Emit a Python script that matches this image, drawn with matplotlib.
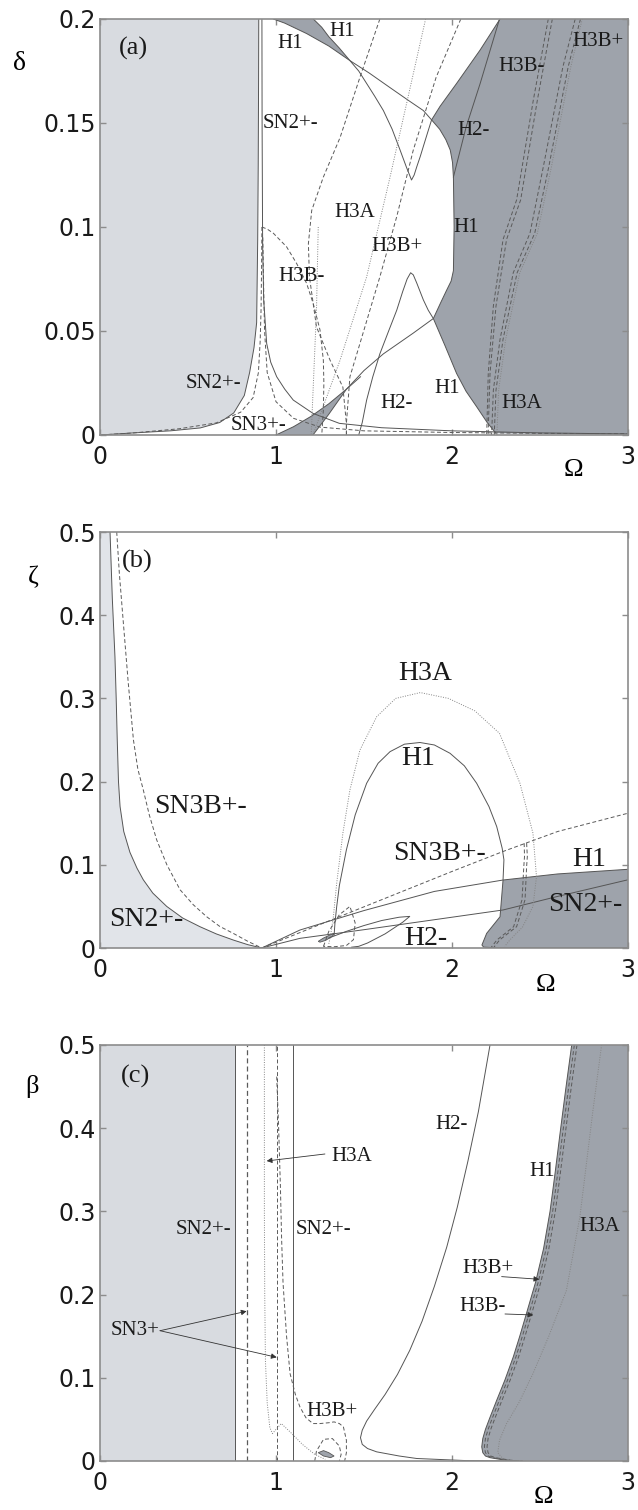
import matplotlib
matplotlib.use("Agg")
import matplotlib.pyplot as plt
import numpy as np

# ---------------- data : panel (a)  (Omega, delta) ----------------
a_sn2L_om = [0, 0.19, 0.40, 0.57, 0.68, 0.76, 0.82, 0.85, 0.875, 0.89, 0.896, 0.899, 0.901, 0.902]
a_sn2L_de = [0, 0.001, 0.002, 0.0034, 0.006, 0.0106, 0.019, 0.030, 0.042, 0.054, 0.094, 0.13, 0.17, 0.2]
a_sn2R_om = [0.92, 0.921, 0.924, 0.93, 0.947, 0.97, 1.004, 1.05, 1.098, 1.21, 1.36, 1.6, 2.0, 2.5, 3.0]
a_sn2R_de = [0.2, 0.15, 0.092, 0.065, 0.044, 0.035, 0.028, 0.022, 0.0168, 0.0104, 0.0056, 0.0035, 0.002, 0.001, 0.0005]
a_h1big_om = [0.985, 1.05, 1.174, 1.30, 1.42, 1.53, 1.648, 1.75, 1.837, 1.884, 1.93, 1.965, 1.99, 2.003, 2.008,
              2.012, 2.008, 1.995, 1.97, 1.935, 1.894, 1.78, 1.61, 1.50, 1.40, 1.30, 1.20, 1.10, 1.0]
a_h1big_de = [0.2, 0.198, 0.193, 0.187, 0.18, 0.174, 0.167, 0.161, 0.156, 0.1515, 0.147, 0.142, 0.137, 0.131, 0.124,
              0.1, 0.079, 0.074, 0.0697, 0.0635, 0.056, 0.049, 0.039, 0.031, 0.022, 0.015, 0.009, 0.004, 0.0]
a_v_om = [1.212, 1.26, 1.30, 1.36, 1.42, 1.47, 1.515, 1.56, 1.61, 1.66, 1.705, 1.74, 1.77, 1.785, 1.80, 1.82, 1.837,
          1.86, 1.884, 1.932, 2.026, 2.159, 2.273]
a_v_de = [0.2, 0.196, 0.1915, 0.186, 0.18, 0.175, 0.169, 0.163, 0.156, 0.147, 0.137, 0.129, 0.1226, 0.125, 0.129, 0.134,
          0.1387, 0.145, 0.1515, 0.158, 0.169, 0.185, 0.2]
a_h2top_om = [2.27, 2.16, 2.08, 2.008]
a_h2top_de = [0.2, 0.169, 0.148, 0.124]
a_peak_om = [1.47, 1.49, 1.515, 1.55, 1.59, 1.64, 1.686, 1.72, 1.745, 1.765, 1.78, 1.80, 1.837, 1.865, 1.894, 1.96,
             2.026, 2.08, 2.14, 2.2, 2.25]
a_peak_de = [0.0, 0.006, 0.0168, 0.028, 0.039, 0.05, 0.06, 0.069, 0.075, 0.078, 0.077, 0.073, 0.065, 0.06, 0.056, 0.043,
             0.0296, 0.021, 0.0136, 0.006, 0.0008]
a_y_om = [1.21, 1.30, 1.40, 1.48]
a_y_de = [0.0, 0.010, 0.022, 0.028]
a_h3bm_om = [0.92, 0.95, 0.985, 1.06, 1.117, 1.174, 1.212, 1.25, 1.269, 1.272, 1.269, 1.26]
a_h3bm_de = [0.1, 0.099, 0.097, 0.0905, 0.0825, 0.0729, 0.063, 0.0505, 0.036, 0.025, 0.012, 0.0]
a_sn3L_om = [0.92, 0.918, 0.915, 0.91, 0.90, 0.87, 0.80, 0.66, 0.45, 0.19, 0.0]
a_sn3L_de = [0.1, 0.08, 0.06, 0.045, 0.03, 0.018, 0.011, 0.0058, 0.003, 0.001, 0.0]
a_sn3R_om = [0.925, 0.93, 0.935, 0.95, 1.0, 1.1, 1.25, 1.5, 2.0, 2.5, 3.0]
a_sn3R_de = [0.095, 0.07, 0.05, 0.03, 0.016, 0.008, 0.0038, 0.002, 0.0012, 0.0008, 0.0006]
a_h3a_om = [1.59, 1.477, 1.364, 1.269, 1.203, 1.184, 1.19, 1.23, 1.307, 1.38, 1.40, 1.40]
a_h3a_de = [0.2, 0.172, 0.143, 0.124, 0.108, 0.092, 0.076, 0.052, 0.036, 0.023, 0.0056, 0.0]
a_dot1_om = [1.85, 1.648, 1.515, 1.364, 1.21]
a_dot1_de = [0.2, 0.124, 0.076, 0.036, 0.0]
a_dot2_om = [1.24, 1.23, 1.21, 1.20]
a_dot2_de = [0.1, 0.06, 0.02, 0.0]
a_h3bp_om = [2.05, 1.91, 1.78, 1.686, 1.59, 1.477, 1.42, 1.40, 1.40]
a_h3bp_de = [0.2, 0.172, 0.137, 0.105, 0.076, 0.044, 0.028, 0.0056, 0.0]
a_rm_om = [2.547, 2.462, 2.367, 2.29, 2.235, 2.206, 2.197]
a_rm_de = [0.2, 0.161, 0.113, 0.094, 0.062, 0.0296, 0.0]
a_rm2_om = [2.57, 2.485, 2.39, 2.31, 2.25, 2.216, 2.205]
a_rp_om = [2.70, 2.63, 2.519, 2.443, 2.348, 2.273, 2.235, 2.225]
a_rp_de = [0.2, 0.177, 0.129, 0.097, 0.078, 0.046, 0.0216, 0.0]
a_rp2_om = [2.73, 2.66, 2.55, 2.47, 2.37, 2.29, 2.25, 2.24]
a_rdot_om = [2.74, 2.675, 2.565, 2.485, 2.385, 2.305, 2.265, 2.255]

# ---------------- data : panel (b)  (Omega, zeta) ----------------
b_sn2L_om = [0.057, 0.07, 0.085, 0.092, 0.098, 0.105, 0.114, 0.135, 0.17, 0.21, 0.246, 0.30, 0.379, 0.47, 0.568,
             0.66, 0.757, 0.84, 0.919]
b_sn2L_ze = [0.5, 0.42, 0.35, 0.30, 0.25, 0.20, 0.17, 0.14, 0.115, 0.096, 0.082, 0.066, 0.05, 0.036, 0.0256,
             0.017, 0.0096, 0.004, 0.0]
b_sn3bL_om = [0.095, 0.11, 0.133, 0.16, 0.19, 0.215, 0.246, 0.28, 0.322, 0.38, 0.455, 0.53, 0.606, 0.68, 0.757, 0.84, 0.919]
b_sn3bL_ze = [0.5, 0.45, 0.39, 0.32, 0.25, 0.215, 0.19, 0.16, 0.13, 0.1, 0.07, 0.052, 0.0376, 0.026, 0.0176, 0.008, 0.0]
b_sn3bR_om = [0.919, 1.2, 1.6, 2.0, 2.29, 2.6, 3.0]
b_sn3bR_ze = [0.0, 0.024, 0.058, 0.092, 0.116, 0.14, 0.162]
b_h1R_om = [0.919, 1.136, 1.5, 1.9, 2.29, 2.6, 3.0]
b_h1R_ze = [0.0, 0.0216, 0.045, 0.068, 0.0817, 0.089, 0.0946]
b_sn2R_om = [0.919, 1.136, 1.5, 1.9, 2.29, 2.6, 3.0]
b_sn2R_ze = [0.0, 0.0116, 0.022, 0.034, 0.0457, 0.062, 0.082]
b_arch_om = [1.33, 1.335, 1.345, 1.36, 1.40, 1.45, 1.515, 1.58, 1.648, 1.73, 1.818, 1.90, 1.989, 2.07, 2.14, 2.21, 2.254, 2.285, 2.295,
             2.29, 2.273, 2.197, 2.17, 2.18, 2.25, 2.5, 3.0]
b_arch_ze = [0.015, 0.03, 0.05, 0.075, 0.118, 0.16, 0.198, 0.222, 0.236, 0.245, 0.247, 0.244, 0.234, 0.219, 0.198, 0.17, 0.146, 0.12, 0.106,
             0.0817, 0.0376, 0.0176, 0.0036, 0.001, 0.0003, 0.0, 0.0]
b_h3a_om = [1.30, 1.31, 1.326, 1.345, 1.38, 1.42, 1.477, 1.572, 1.68, 1.82, 1.98, 2.13, 2.27, 2.386, 2.46, 2.48, 2.46, 2.40, 2.33, 2.30]
b_h3a_ze = [0.005, 0.015, 0.0376, 0.078, 0.138, 0.19, 0.238, 0.278, 0.3, 0.307, 0.3, 0.285, 0.258, 0.198, 0.138, 0.0857, 0.05, 0.025, 0.01, 0.002]
b_h3b1_om = [2.424, 2.428, 2.424, 2.415, 2.367, 2.27, 2.235]
b_h3b1_ze = [0.126, 0.11, 0.098, 0.058, 0.0256, 0.0096, 0.0]
b_h3b2_om = [2.41, 2.412, 2.408, 2.398, 2.35, 2.255, 2.22]
b_h2_om = [1.30, 1.40, 1.50, 1.60, 1.70, 1.76, 1.72, 1.62, 1.52, 1.47, 1.43]
b_h2_ze = [0.012, 0.02, 0.027, 0.033, 0.037, 0.038, 0.031, 0.017, 0.006, 0.002, 0.001]
b_loop_om = [1.27, 1.30, 1.36, 1.42, 1.45, 1.44, 1.40, 1.33, 1.27]
b_loop_ze = [0.002, 0.02, 0.04, 0.05, 0.03, 0.01, 0.003, 0.0015, 0.002]
b_blob_om = [1.24, 1.27, 1.31, 1.33, 1.32, 1.28, 1.25, 1.24]
b_blob_ze = [0.008, 0.012, 0.016, 0.0176, 0.014, 0.009, 0.007, 0.008]

# ---------------- data : panel (c)  (Omega, beta) ----------------
c_sn2_left = 0.767
c_sn3_left = 0.833
c_sn3_right = 1.004
c_sn2_right = 1.094
c_dot_om = [0.934, 0.934, 0.936, 0.94, 0.95, 0.965, 0.98, 1.0, 1.03, 1.08, 1.15, 1.22, 1.28]
c_dot_be = [0.5, 0.3, 0.2, 0.12, 0.07, 0.04, 0.033, 0.038, 0.045, 0.035, 0.02, 0.008, 0.002]
c_h3a_om = [1.004, 1.015, 1.025, 1.032, 1.04, 1.06, 1.08, 1.11, 1.136, 1.17, 1.21, 1.25, 1.30, 1.33, 1.36, 1.383, 1.40, 1.40, 1.39]
c_h3a_be = [0.462, 0.40, 0.33, 0.266, 0.214, 0.15, 0.105, 0.08, 0.065, 0.052, 0.045, 0.045, 0.046, 0.047, 0.045, 0.041, 0.025, 0.01, 0.0]
c_h2_om = [2.216, 2.15, 2.09, 2.03, 1.97, 1.90, 1.83, 1.76, 1.69, 1.62, 1.56, 1.515, 1.49, 1.48, 1.49, 1.52, 1.572, 1.7, 1.8, 2.08, 2.4]
c_h2_be = [0.5, 0.42, 0.36, 0.305, 0.257, 0.21, 0.168, 0.133, 0.104, 0.08, 0.062, 0.048, 0.037, 0.028, 0.02, 0.015, 0.011, 0.006, 0.003, 0.0005, 0.0]
c_h1_om = [2.68, 2.645, 2.614, 2.585, 2.557, 2.52, 2.475, 2.424, 2.385, 2.348, 2.30, 2.254, 2.215, 2.19, 2.175, 2.169, 2.175, 2.19, 2.216, 2.30, 2.367]
c_h1_be = [0.5, 0.445, 0.394, 0.345, 0.30, 0.255, 0.215, 0.178, 0.15, 0.125, 0.097, 0.073, 0.052, 0.038, 0.027, 0.017, 0.01, 0.006, 0.004, 0.001, 0.0]
c_h3bm_om = [v + 0.015 for v in c_h1_om]
c_h3bp_om = [v + 0.03 for v in c_h1_om]
c_h3ad_om = [2.85, 2.80, 2.727, 2.65, 2.55, 2.46, 2.38, 2.31, 2.27, 2.26, 2.30]
c_h3ad_be = [0.5, 0.42, 0.294, 0.205, 0.15, 0.105, 0.07, 0.045, 0.025, 0.01, 0.0]
c_blob_om = [1.24, 1.27, 1.30, 1.33, 1.31, 1.27, 1.24]
c_blob_be = [0.010, 0.0125, 0.010, 0.006, 0.004, 0.006, 0.010]
c_loop_om = [1.22, 1.23, 1.27, 1.32, 1.36, 1.37, 1.36]
c_loop_be = [0.0, 0.012, 0.026, 0.027, 0.018, 0.008, 0.0]

# ---------------- styling ----------------
W, H = 638, 1510
fig = plt.figure(figsize=(W / 100, H / 100), dpi=100)
LINE = '#555555'
DASH = '#5a5a5a'
DOT = '#858585'
LIGHT = '#d8dbe0'
LIGHT_B = '#e1e4e9'
DARK = '#9ea3ab'
SERIF = ['Liberation Serif', 'DejaVu Serif']
SANS = ['DejaVu Sans']


def make_ax(top_px, bottom_px, ymax, yticks, yticklabels):
    ax = fig.add_axes([100 / W, 1 - bottom_px / H, 528 / W, (bottom_px - top_px) / H])
    ax.set_xlim(0, 3)
    ax.set_ylim(0, ymax)
    ax.set_xticks([0, 1, 2, 3])
    ax.set_xticklabels(['0', '1', '2', '3'])
    ax.set_yticks(yticks)
    ax.set_yticklabels(yticklabels)
    ax.tick_params(direction='in', length=4, width=1, color='#8c8c8c',
                   top=True, right=True, labelsize=17, labelcolor='#1a1a1a')
    ax.tick_params(axis='x', pad=7)
    ax.tick_params(axis='y', pad=3)
    for lab in ax.get_xticklabels() + ax.get_yticklabels():
        lab.set_family(SANS)
    for s in ax.spines.values():
        s.set_color('#8c8c8c')
        s.set_linewidth(1.2)
    return ax


def solid(ax, x, y, lw=0.7):
    ax.plot(x, y, color=LINE, lw=lw, solid_joinstyle='round')


def dashed(ax, x, y, lw=0.7):
    ax.plot(x, y, color=DASH, lw=lw, linestyle=(0, (4, 2.5)))


def dotted(ax, x, y, lw=0.7):
    ax.plot(x, y, color=DOT, lw=lw, linestyle=(0, (1, 1.5)))


def label(ax, x, y, s, size=15, ha='center'):
    ax.text(x, y, s, fontsize=size, family=SERIF, ha=ha, va='center', color='#1a1a1a')


# ================= panel (a) =================
ax = make_ax(19, 435, 0.2, [0, 0.05, 0.1, 0.15, 0.2], ['0', '0.05', '0.1', '0.15', '0.2'])
ax.fill(np.r_[0, a_sn2L_om, 0], np.r_[0, a_sn2L_de, 0.2], color=LIGHT, lw=0)

i_top = a_h1big_de.index(0.18)
j_top = a_v_de.index(0.18)
i_cross = a_h1big_de.index(0.1515)
j_cross = a_v_de.index(0.1515)
i_join = a_h1big_de.index(0.056)
k_join = a_peak_de.index(0.056)
i_wedge = a_h1big_de.index(0.022)
# top wedge
ax.fill(np.r_[a_h1big_om[:i_top + 1], a_v_om[j_top - 1::-1]],
        np.r_[a_h1big_de[:i_top + 1], a_v_de[j_top - 1::-1]], color=DARK, lw=0)
# right region
dk_om = np.r_[a_v_om[j_cross:], 3, 3, a_peak_om[:k_join - 1:-1], a_h1big_om[i_join:i_cross:-1]]
dk_de = np.r_[a_v_de[j_cross:], 0.2, 0, a_peak_de[:k_join - 1:-1], a_h1big_de[i_join:i_cross:-1]]
ax.fill(dk_om, dk_de, color=DARK, lw=0)
# bottom wedge
ax.fill(np.r_[a_h1big_om[i_wedge:], a_y_om[0:3]], np.r_[a_h1big_de[i_wedge:], a_y_de[0:3]], color=DARK, lw=0)

solid(ax, a_sn2L_om, a_sn2L_de)
solid(ax, a_sn2R_om, a_sn2R_de)
solid(ax, a_h1big_om, a_h1big_de)
solid(ax, a_v_om, a_v_de)
solid(ax, a_h2top_om, a_h2top_de)
solid(ax, a_peak_om, a_peak_de)
solid(ax, a_y_om, a_y_de)
dashed(ax, a_h3bm_om, a_h3bm_de)
dashed(ax, a_sn3L_om, a_sn3L_de)
dashed(ax, a_sn3R_om, a_sn3R_de)
dashed(ax, a_h3a_om, a_h3a_de)
dotted(ax, a_dot1_om, a_dot1_de)
dotted(ax, a_dot2_om, a_dot2_de)
dashed(ax, a_h3bp_om, a_h3bp_de)
dashed(ax, a_rm_om, a_rm_de)
dashed(ax, a_rm2_om, a_rm_de)
dashed(ax, a_rp_om, a_rp_de)
dashed(ax, a_rp2_om, a_rp_de)
dotted(ax, a_rdot_om, a_rp_de)

label(ax, 0.19, 0.186, '(a)', size=19)
label(ax, 1.08, 0.188, 'H1')
label(ax, 1.375, 0.194, 'H1')
label(ax, 0.925, 0.15, 'SN2+-', ha='left')
label(ax, 2.395, 0.177, 'H3B-')
label(ax, 2.83, 0.189, 'H3B+')
label(ax, 2.12, 0.1466, 'H2-')
label(ax, 2.083, 0.1, 'H1')
label(ax, 1.45, 0.107, 'H3A')
label(ax, 1.686, 0.0905, 'H3B+')
label(ax, 1.146, 0.076, 'H3B-')
label(ax, 0.644, 0.025, 'SN2+-')
label(ax, 0.90, 0.0048, 'SN3+-')
label(ax, 1.686, 0.0152, 'H2-')
label(ax, 1.97, 0.0224, 'H1')
label(ax, 2.395, 0.0152, 'H3A')
fig.text(20 / W, 1 - 63 / H, 'δ', fontsize=20, family=SERIF, ha='center', va='center')
fig.text(573 / W, 1 - 470 / H, 'Ω', fontsize=19, family=SERIF, ha='center', va='center')

# ================= panel (b) =================
ax = make_ax(532, 948, 0.5, [0, 0.1, 0.2, 0.3, 0.4, 0.5], ['0', '0.1', '0.2', '0.3', '0.4', '0.5'])
ax.fill(np.r_[0, b_sn2L_om, 0], np.r_[0.5, b_sn2L_ze, 0], color=LIGHT_B, lw=0)
bd_om = np.r_[b_arch_om[19:26], 3, 3, b_h1R_om[:3:-1]]
bd_ze = np.r_[b_arch_ze[19:26], 0, 0.0946, b_h1R_ze[:3:-1]]
ax.fill(bd_om, bd_ze, color=DARK, lw=0)
ax.fill(b_blob_om, b_blob_ze, color=DARK, lw=0.6, ec=LINE)

solid(ax, b_sn2L_om, b_sn2L_ze)
dashed(ax, b_sn3bL_om, b_sn3bL_ze)
dashed(ax, b_sn3bR_om, b_sn3bR_ze)
solid(ax, b_h1R_om, b_h1R_ze)
solid(ax, b_sn2R_om, b_sn2R_ze)
solid(ax, b_arch_om, b_arch_ze)
dotted(ax, b_h3a_om, b_h3a_ze)
dashed(ax, b_h3b1_om, b_h3b1_ze)
dashed(ax, b_h3b2_om, b_h3b1_ze)
solid(ax, b_h2_om, b_h2_ze)
dashed(ax, b_loop_om, b_loop_ze)

label(ax, 0.21, 0.464, '(b)', size=19)
label(ax, 1.85, 0.33, 'H3A', size=20)
label(ax, 1.81, 0.228, 'H1', size=20)
label(ax, 0.57, 0.17, 'SN3B+-', size=20)
label(ax, 1.93, 0.114, 'SN3B+-', size=20)
label(ax, 2.78, 0.106, 'H1', size=20)
label(ax, 2.756, 0.052, 'SN2+-', size=20)
label(ax, 0.265, 0.034, 'SN2+-', size=20)
label(ax, 1.85, 0.012, 'H2-', size=20)
fig.text(33 / W, 1 - 577 / H, 'ζ', fontsize=19, family=SERIF, ha='center', va='center')
fig.text(545 / W, 1 - 985 / H, 'Ω', fontsize=19, family=SERIF, ha='center', va='center')

# ================= panel (c) =================
ax = make_ax(1045, 1461, 0.5, [0, 0.1, 0.2, 0.3, 0.4, 0.5], ['0', '0.1', '0.2', '0.3', '0.4', '0.5'])
ax.fill([0, c_sn2_left, c_sn2_left, 0], [0, 0, 0.5, 0.5], color=LIGHT, lw=0)
ax.fill(np.r_[c_h1_om, 3, 3], np.r_[c_h1_be, 0, 0.5], color=DARK, lw=0)
ax.fill(c_blob_om, c_blob_be, color=DARK, lw=0.6, ec=LINE)

solid(ax, [c_sn2_left, c_sn2_left], [0, 0.5])
dashed(ax, [c_sn3_left, c_sn3_left], [0, 0.5], lw=0.9)
dashed(ax, [c_sn3_right, c_sn3_right], [0, 0.5])
solid(ax, [c_sn2_right, c_sn2_right], [0, 0.5])
dotted(ax, c_dot_om, c_dot_be)
dashed(ax, c_h3a_om, c_h3a_be)
solid(ax, c_h2_om, c_h2_be)
solid(ax, c_h1_om, c_h1_be)
dashed(ax, c_h3bm_om, c_h1_be)
dashed(ax, c_h3bp_om, c_h1_be)
dotted(ax, c_h3ad_om, c_h3ad_be)
dashed(ax, c_loop_om, c_loop_be)

label(ax, 0.2, 0.462, '(c)', size=19)
label(ax, 0.587, 0.278, 'SN2+-')
label(ax, 1.11, 0.278, 'SN2+-', ha='left')
label(ax, 1.316, 0.366, 'H3A', ha='left')
label(ax, 2.0, 0.404, 'H2-')
label(ax, 2.51, 0.348, 'H1')
label(ax, 2.84, 0.282, 'H3A')
label(ax, 2.206, 0.2316, 'H3B+')
label(ax, 2.172, 0.1855, 'H3B-')
label(ax, 1.316, 0.0593, 'H3B+')
label(ax, 0.2, 0.157, 'SN3+')

arrow = dict(arrowstyle='-|>', lw=0.6, color='#333333', mutation_scale=8, shrinkA=0, shrinkB=0)
ax.annotate('', xy=(0.947, 0.3606), xytext=(1.278, 0.369), arrowprops=arrow)
ax.annotate('', xy=(0.833, 0.180), xytext=(0.341, 0.1566), arrowprops=arrow)
ax.annotate('', xy=(1.004, 0.1246), xytext=(0.341, 0.1566), arrowprops=arrow)
ax.annotate('', xy=(2.496, 0.2184), xytext=(2.282, 0.2216), arrowprops=arrow)
ax.annotate('', xy=(2.462, 0.1755), xytext=(2.301, 0.1767), arrowprops=arrow)
fig.text(32 / W, 1 - 1087 / H, 'β', fontsize=19, family=SERIF, ha='center', va='center')
fig.text(543 / W, 1 - 1497 / H, 'Ω', fontsize=19, family=SERIF, ha='center', va='center')

fig.savefig('out.png', dpi=100, facecolor='white')
